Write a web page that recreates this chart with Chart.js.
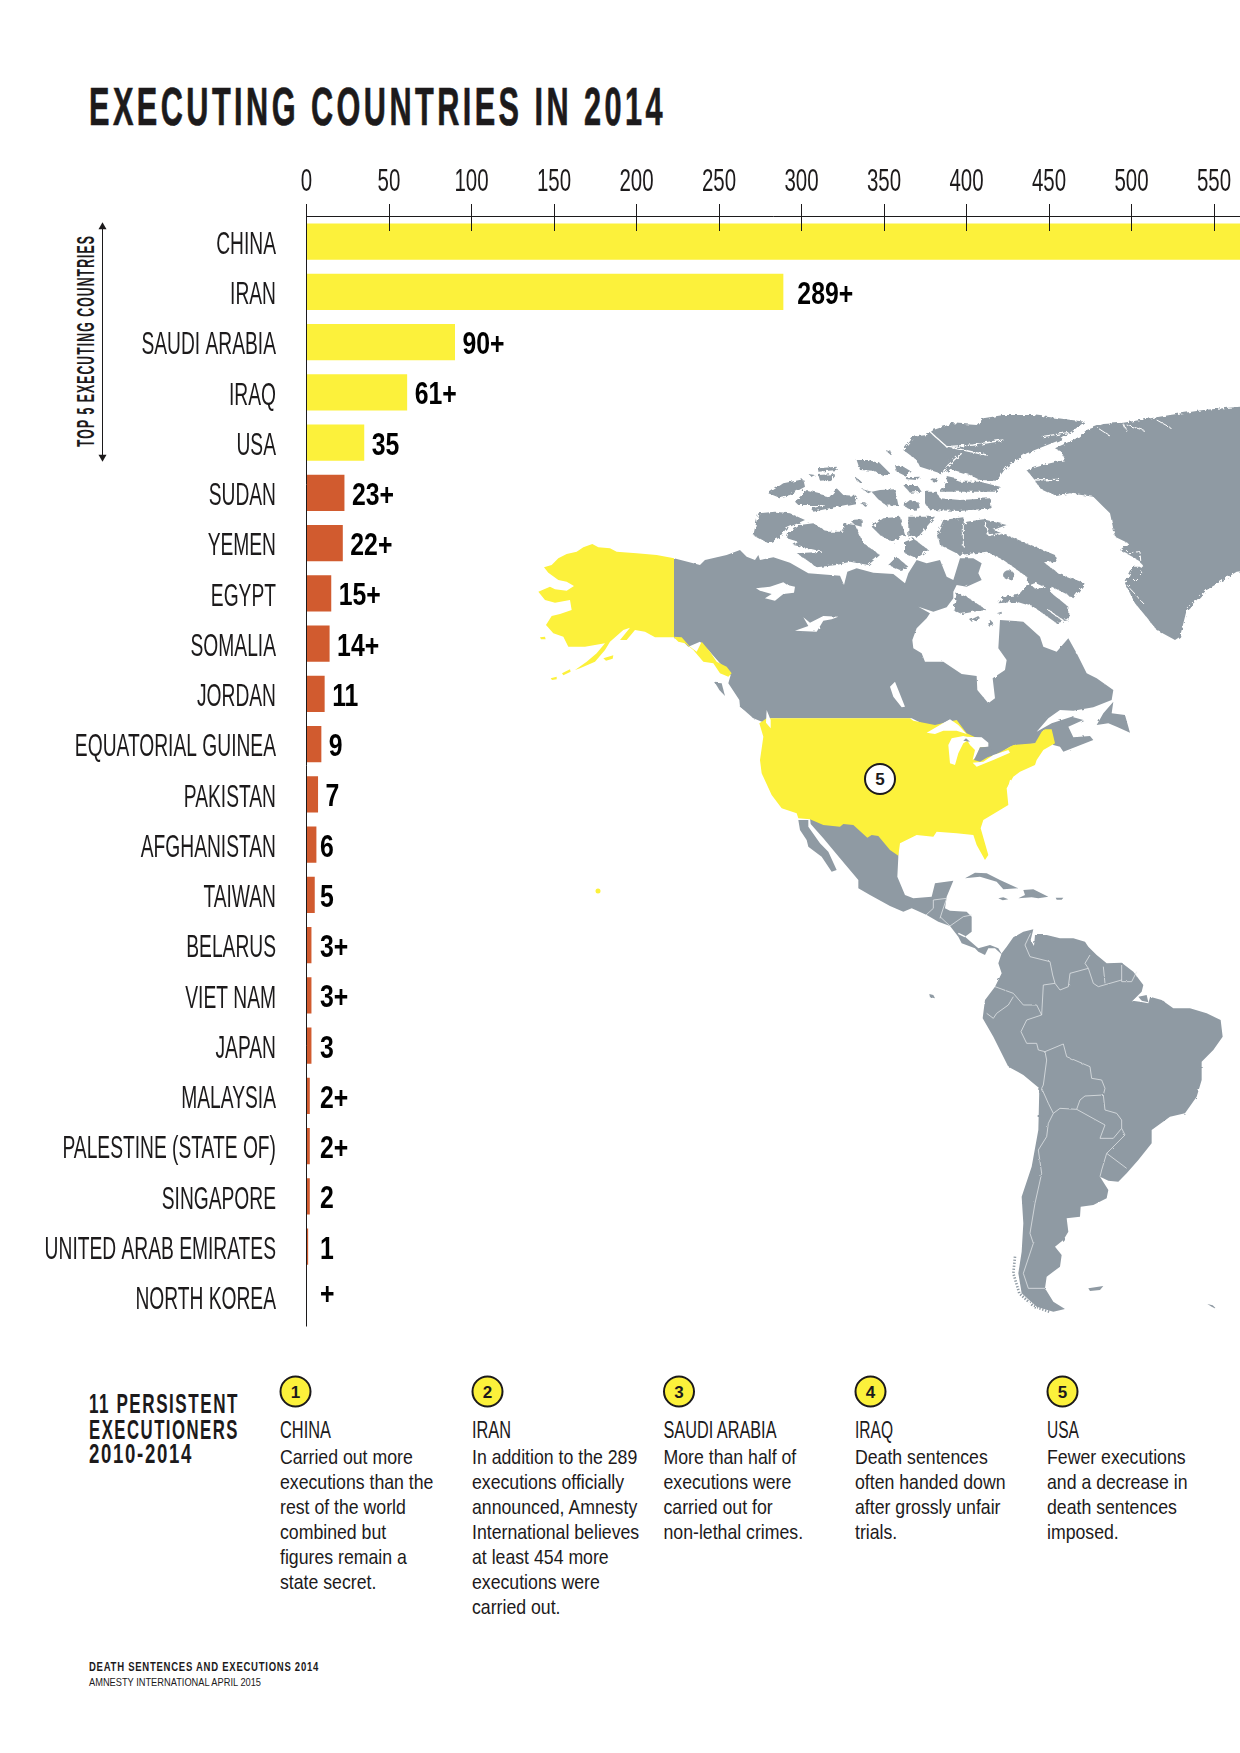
<!DOCTYPE html>
<html><head><meta charset="utf-8">
<script src="https://cdn.jsdelivr.net/npm/chart.js@4"></script>
<style>
html,body{margin:0;padding:0;background:#fff;overflow:hidden}
#wrap{position:relative;width:1240px;height:1753px}
#art,#c{position:absolute;left:0;top:0}
.land{fill:#8f9aa3}
.usa{fill:#fcf13b}
.cut{fill:#fff}
.fj{fill:none;stroke:#fff;stroke-width:4;stroke-linejoin:round}
.bd{fill:none;stroke:#dfe3e6;stroke-width:2.4;stroke-linejoin:round}
.dots{fill:none;stroke:#8f9aa3;stroke-width:8;stroke-dasharray:4 5}
text{font-family:'Liberation Sans',sans-serif;fill:#1c1a1b}
</style></head><body>
<div id="wrap">
<svg id="art" width="1240" height="1753" viewBox="0 0 1240 1753" xmlns="http://www.w3.org/2000/svg">
<defs>
<filter id="rough" x="-5%" y="-5%" width="110%" height="110%"><feTurbulence type="fractalNoise" baseFrequency="0.28" numOctaves="2" seed="4" result="n"/><feDisplacementMap in="SourceGraphic" in2="n" scale="5"/></filter>
<filter id="soft" x="-5%" y="-5%" width="110%" height="110%"><feTurbulence type="fractalNoise" baseFrequency="0.16" numOctaves="2" seed="9" result="n"/><feDisplacementMap in="SourceGraphic" in2="n" scale="2"/></filter>
</defs>
<!-- South America -->
<g filter="url(#soft)">
<g transform="translate(760,840) scale(.33333)">
<polygon class="land" points="725,340 740,320 760,292 790,275 820,268 812,300 822,318 825,285 860,285 900,295 940,295 975,305 985,320 1010,345 1040,370 1085,368 1120,395 1150,435 1145,455 1115,485 1145,470 1170,470 1205,480 1240,505 1290,505 1340,520 1382,540 1388,590 1360,630 1325,665 1325,720 1310,770 1275,820 1230,830 1175,870 1175,910 1135,960 1100,1000 1075,1025 1045,1022 1020,1010 1045,1050 1040,1075 1000,1095 962,1100 960,1130 920,1135 925,1175 910,1200 885,1220 905,1245 900,1280 860,1310 855,1345 880,1385 915,1407 880,1415 830,1400 785,1360 775,1300 785,1235 790,1150 785,1070 815,980 835,870 838,745 790,705 745,680 700,590 668,535 675,480 705,440 725,400 715,370"/>
<polyline class="dots" points="765,1250 760,1300 778,1360 820,1398 870,1416"/>
<polygon class="land" points="985,1345 1030,1338 1020,1350 990,1353"/>
<polygon class="land" points="1342,1392 1358,1396 1370,1408 1355,1400"/>
<polygon class="land" points="508,462 520,465 525,475 510,472"/>
<polygon class="cut" points="1118,482 1150,458 1172,465 1165,490 1140,485"/>
<polygon class="land" points="1135,470 1160,465 1165,487 1145,482"/>
<polyline class="bd" points="812,280 795,315 810,350 870,365 878,405 885,430 850,435 845,525"/>
<polyline class="bd" points="885,430 900,450 925,440 930,400 985,385 975,370 990,345"/>
<polyline class="bd" points="985,385 1000,430 1015,440 1085,420"/>
<polyline class="bd" points="1030,380 1035,430"/>
<polyline class="bd" points="1085,375 1085,425 1115,425 1130,395"/>
<polyline class="bd" points="845,525 830,495 790,495 760,460 705,440"/>
<polyline class="bd" points="760,470 745,495 710,520 700,535 680,520"/>
<polyline class="bd" points="845,525 800,540 783,575 800,610 830,610 835,630 855,635"/>
<polyline class="bd" points="855,635 910,612 920,650 990,680 995,715 1025,720 1035,745 1030,765"/>
<polyline class="bd" points="855,635 860,660 850,735 845,745"/>
<polyline class="bd" points="845,745 865,790 880,820"/>
<polyline class="bd" points="880,820 900,805 950,808"/>
<polyline class="bd" points="950,808 960,780 975,768 1030,765"/>
<polyline class="bd" points="1030,765 1035,810 1070,820 1085,840 1085,865 1060,895 1020,895"/>
<polyline class="bd" points="950,808 1035,855 1020,895"/>
<polyline class="bd" points="1085,865 1095,885 1040,940"/>
<polyline class="bd" points="1040,940 1100,985"/>
<polyline class="bd" points="1040,940 1025,990 1020,1010"/>
<polyline class="bd" points="880,820 865,850 860,890 835,930 845,1000 825,1090 810,1180 820,1210 790,1300 805,1345 855,1345"/>
</g>
</g>
<!-- Mexico and Central America -->
<g transform="translate(790,820) scale(.33333)">
<polygon class="land" points="60,-6 320,-6 325,110 322,170 345,225 370,235 425,230 435,190 490,182 470,230 465,265 480,272 530,275 545,290 545,335 525,350 565,385 600,375 625,385 637,405 615,385 595,385 585,405 565,395 555,385 515,370 505,350 480,318 445,305 410,285 365,265 340,275 300,258 240,225 205,205 205,180 150,115 100,55 62,12"/>
<polygon class="land" points="25,0 55,0 55,20 90,70 115,95 140,150 125,155 95,110 55,80 50,60 30,30"/>
<polygon class="land" points="525,175 555,158 590,160 630,180 685,205 640,208 620,185 570,170"/>
<polygon class="land" points="685,235 705,225 700,210 730,208 775,230 745,235 725,232"/>
<polygon class="land" points="625,235 640,232 655,238 638,241"/>
<polygon class="land" points="797,233 820,233 815,239 800,239"/>
<polyline class="bd" points="470,235 430,240 430,265 408,285"/>
<polyline class="bd" points="470,235 458,270 450,295"/>
<polyline class="bd" points="450,290 480,318 520,290 545,285"/>
<polyline class="fj" points="505,340 525,350" />
</g>
<!-- Canada -->
<g filter="url(#soft)">
<g transform="translate(660,550) scale(.33333)">
<polygon class="land" points="42,25 120,45 135,30 200,15 240,0 260,20 285,30 295,15 300,30 340,22 390,38 445,70 540,77 552,105 562,65 590,55 640,68 700,72 735,100 745,70 770,30 800,40 840,30 860,80 880,90 900,25 940,25 965,40 955,70 965,90 920,110 890,105 880,125 880,145 860,172 820,185 775,170 810,190 800,205 770,235 757,270 760,295 785,310 795,335 850,335 905,372 950,378 952,420 985,460 1005,445 998,385 1035,360 1040,330 1015,295 1020,210 1090,215 1140,260 1150,290 1190,305 1225,265 1250,310 1280,370 1310,385 1360,420 1355,450 1300,472 1240,482 1200,480 1165,505 1130,545 1175,520 1235,500 1270,510 1225,530 1240,562 1290,558 1300,570 1210,605 1200,590 1180,585 1150,540 1130,580 1050,590 1020,610 950,640 940,630 980,590 930,560 920,555 870,510 815,535 755,505 330,505 320,520 290,505 240,470 238,450 205,400 212,375 180,340 145,300 120,275 85,290 60,265 42,265"/>
<polygon class="land" points="1310,525 1330,490 1360,455 1355,490 1395,495 1410,548 1370,530 1345,520"/>
<polygon class="land" points="165,398 185,400 195,438 178,420"/>
<polygon class="land" points="238,468 270,475 315,510 318,520 280,505"/>
<polygon class="cut" points="690,410 705,395 715,420 735,470 725,472 700,440"/>
<polygon class="cut" points="288,115 330,110 370,97 382,105 405,110 402,128 370,132 345,152 315,145 335,132 300,122"/>
<polygon class="cut" points="430,202 450,218 490,198 535,200 515,208 490,212 470,245 405,242 445,228"/>
</g>
</g>
<!-- Arctic islands and Greenland -->
<g filter="url(#rough)">
<g transform="translate(740,410) scale(.33333)">
<polygon class="land" points="1040,60 1090,42 1150,38 1200,30 1290,15 1390,0 1500,-10 1540,-10 1540,480 1490,485 1400,540 1370,570 1340,600 1320,680 1305,690 1250,660 1210,610 1185,580 1155,520 1180,470 1210,470 1195,450 1140,420 1165,400 1125,380 1110,310 1060,260 990,250 950,258 900,235 880,205 860,180 930,160 975,150 965,125 945,115 1010,85"/>
<polygon class="land" points="490,120 520,80 560,75 580,60 640,40 710,45 730,25 790,15 880,15 1035,35 960,90 860,130 800,170 770,212 720,210 690,195 640,180 600,190 540,170 530,150"/>
<polygon class="land" points="600,240 630,205 660,215 720,215 780,230 770,245 600,245"/>
<polygon class="land" points="555,245 590,245 600,265 660,270 750,265 755,295 660,303 570,300 555,280"/>
<polygon class="land" points="490,225 530,225 545,245 510,248"/>
<polygon class="land" points="465,165 490,170 515,185 495,197 470,185"/>
<polygon class="land" points="495,202 540,200 530,210 500,208"/>
<polygon class="land" points="575,205 595,207 590,217 575,213"/>
<polygon class="land" points="620,198 650,205 640,215 620,210"/>
<polygon class="land" points="350,150 385,150 420,160 450,190 430,198 400,182 360,180"/>
<polygon class="land" points="435,120 455,125 450,133"/>
<polygon class="land" points="345,200 365,215 355,218"/>
<polygon class="land" points="235,175 290,170 290,180 235,185"/>
<polygon class="land" points="235,195 285,192 270,210 240,212"/>
<polygon class="land" points="205,192 225,195 215,200"/>
<polygon class="land" points="85,250 130,220 190,208 195,230 150,255 115,262"/>
<polygon class="land" points="165,275 200,240 240,250 265,265 290,235 310,255 350,258 345,280 290,290 220,305 215,295 260,285 175,285"/>
<polygon class="land" points="395,245 420,240 465,238 475,285 440,287 415,268"/>
<polygon class="land" points="365,237 395,245 385,250"/>
<polygon class="land" points="490,285 510,270 535,275 540,298 510,300"/>
<polygon class="land" points="360,280 380,280 375,288"/>
<polygon class="land" points="55,310 105,305 150,310 195,330 140,355 115,385 85,400 40,375"/>
<polygon class="land" points="145,370 180,345 220,340 260,365 310,365 310,340 345,345 370,400 420,435 385,465 330,455 290,465 230,472 200,450 170,430 250,425 160,405 175,395 140,385"/>
<polygon class="land" points="330,330 365,328 365,350 345,345"/>
<polygon class="land" points="395,350 430,325 480,320 495,375 455,395 420,375"/>
<polygon class="land" points="505,320 585,320 535,380 505,380"/>
<polygon class="land" points="592,370 610,330 670,322 672,345 680,335 730,328 800,345 760,360 850,395 945,435 950,455 915,460 955,490 1035,520 1000,565 985,555 935,530 930,545 985,590 985,630 950,640 880,590 830,575 775,580 790,560 835,555 865,520 860,500 790,450 740,425 660,435 600,405"/>
<polygon class="land" points="495,395 520,385 565,420 530,445 495,430"/>
<polygon class="land" points="445,465 470,440 505,470 480,480"/>
<polygon class="land" points="640,600 650,550 680,560 740,600 700,605 665,612"/>
<polygon class="land" points="690,630 715,618 720,625 695,635"/>
<polygon class="land" points="745,640 755,632 758,648 748,650"/>
<polygon class="land" points="770,610 785,605 785,612"/>
<ellipse class="land" cx="806" cy="495" rx="17" ry="14"/>
<polygon class="cut" points="870,525 888,518 915,530 890,538"/>
<polyline class="fj" points="570,65 620,110 700,105 790,90"/>
<polyline class="fj" points="620,110 670,120 740,135"/>
<polyline class="fj" points="665,130 625,165 610,185"/>
<polyline class="fj" points="905,80 985,68"/>
<polyline class="fj" style="stroke-width:3" points="670,345 670,410"/>
<polyline class="fj" points="735,335 745,375 790,370"/>
<polyline class="fj" points="880,210 960,208"/>
<polyline class="fj" style="stroke-width:3" points="1075,55 1110,78"/>
<polyline class="fj" style="stroke-width:3" points="1150,40 1160,65"/>
<polyline class="fj" style="stroke-width:3" points="1160,45 1215,62"/>
<polyline class="fj" style="stroke-width:3" stroke-dasharray="16 8" points="1140,430 1200,425 1205,490 1165,530 1210,580"/>
<polyline class="fj" style="stroke-width:3" points="1250,30 1295,55"/>
<polyline class="fj" points="925,600 980,640"/>
</g>
</g>
<!-- USA and Alaska -->
<g transform="translate(530,530) scale(.33333)">
<polygon class="usa" points="432,85 380,75 320,70 260,65 240,55 205,52 187,42 160,52 140,65 110,72 85,85 65,105 42,112 55,128 85,150 110,155 132,168 110,182 75,178 60,170 25,185 45,210 75,218 120,210 125,240 90,252 65,258 48,285 70,310 100,320 115,350 165,350 195,345 225,340 200,370 170,395 135,420 150,415 195,395 225,360 240,335 280,300 300,293 270,330 290,330 315,300 345,305 375,322 432,322"/>
<polygon class="usa" points="430,320 455,322 480,350 500,365 515,335 540,365 560,395 590,410 605,430 595,440 570,430 550,400 520,395 490,360 465,340 445,335"/>
<polygon class="usa" points="30,322 45,320 47,328 33,328"/>
<polygon class="usa" points="62,445 80,440 80,448 66,450"/>
<polygon class="usa" points="96,430 120,418 122,425 100,436"/>
<polygon class="usa" points="220,385 250,376 248,386 228,392"/>
</g>
<g transform="translate(750,710) scale(.33333)">
<polygon class="usa" points="28,40 50,25 480,25 490,32 555,45 620,30 650,70 715,100 680,150 735,135 790,105 855,100 875,65 885,58 905,58 915,100 880,120 860,150 855,165 810,185 790,200 770,235 775,285 700,330 692,355 715,435 705,450 680,405 670,375 620,370 560,365 550,380 500,375 450,400 445,437 420,420 385,378 365,375 352,383 310,345 280,342 270,350 220,345 180,328 145,325 140,310 95,295 65,255 35,190 30,150 40,80"/>
<polygon class="cut" points="530,68 575,42 600,28 625,45 650,72 620,62 580,62 555,72"/>
<polygon class="cut" points="595,105 605,85 640,78 665,85 640,100 625,130 615,165 600,160"/>
<polygon class="cut" points="645,80 695,82 715,98 715,110 690,112 680,140 668,150 675,120 660,105"/>
<polygon class="land" points="648,85 660,95 640,92"/>
<polygon class="land" points="672,150 690,112 720,110 735,128 715,140 690,155"/>
<polygon class="cut" points="668,158 700,155 730,135 775,120 780,128 730,150 680,170"/>
<polyline class="fj" points="782,210 776,232 790,238"/>
<polygon class="cut" points="50,0 62,30 62,55 48,38"/>
</g>
<ellipse class="usa" cx="598" cy="891" rx="2.5" ry="2.5"/>
</svg>
<canvas id="c" width="1240" height="1753"></canvas>
</div>
<script>
const categories = ["CHINA","IRAN","SAUDI ARABIA","IRAQ","USA","SUDAN","YEMEN","EGYPT","SOMALIA","JORDAN","EQUATORIAL GUINEA","PAKISTAN","AFGHANISTAN","TAIWAN","BELARUS","VIET NAM","JAPAN","MALAYSIA","PALESTINE (STATE OF)","SINGAPORE","UNITED ARAB EMIRATES","NORTH KOREA"];
const executions = [566,289,90,61,35,23,22,15,14,11,9,7,6,5,3,3,3,2,2,2,1,0];
const valueLabels = ["","289+","90+","61+","35","23+","22+","15+","14+","11","9","7","6","5","3+","3+","3","2+","2+","2","1","+"];
const tickValues = [0,50,100,150,200,250,300,350,400,450,500,550];
const topCount = 5;
const notes = [
 ["1","CHINA",["Carried out more","executions than the","rest of the world","combined but","figures remain a","state secret."]],
 ["2","IRAN",["In addition to the 289","executions officially","announced, Amnesty","International believes","at least 454 more","executions were","carried out."]],
 ["3","SAUDI ARABIA",["More than half of","executions were","carried out for","non-lethal crimes."]],
 ["4","IRAQ",["Death sentences","often handed down","after grossly unfair","trials."]],
 ["5","USA",["Fewer executions","and a decrease in","death sentences","imposed."]]
];
const YELLOW="#fcf13b", ORANGE="#d15b2f", INK="#1c1a1b";
const SANS="'Liberation Sans',sans-serif";

const NS="http://www.w3.org/2000/svg", art=document.getElementById('art');
function txt(s,x,y,size,weight,width,extra){
  const t=document.createElementNS(NS,'text');
  t.textContent=s;t.setAttribute('x',x);t.setAttribute('y',y);
  t.setAttribute('font-size',size);t.setAttribute('font-weight',weight||'normal');
  if(width){t.setAttribute('textLength',width);t.setAttribute('lengthAdjust','spacingAndGlyphs');}
  if(extra)for(const k in extra)t.setAttribute(k,extra[k]);
  art.appendChild(t);return t;
}
function squeezed(s,x,y,size,sx){
  const t=txt(s,0,0,size,'normal');
  t.setAttribute('transform',`translate(${x},${y}) scale(${sx},1)`);return t;
}
function circle(cx,cy,fill,label){
  const c=document.createElementNS(NS,'circle');
  c.setAttribute('cx',cx);c.setAttribute('cy',cy);c.setAttribute('r',15);
  c.setAttribute('fill',fill);c.setAttribute('stroke',INK);c.setAttribute('stroke-width',2);
  art.appendChild(c);
  txt(label,cx,cy+6,17,'bold',null,{'text-anchor':'middle'});
}
const heavy={'letter-spacing':'6','stroke':INK,'stroke-width':'0.7'};
txt("EXECUTING COUNTRIES IN 2014",89,125,53.5,'bold',577,heavy);
const rot=txt("TOP 5 EXECUTING COUNTRIES",0,0,23,'bold',212,{'letter-spacing':'2'});
rot.setAttribute('transform','translate(94,447) rotate(-90)');
const subHead={'letter-spacing':'2.5'};
txt("11 PERSISTENT",89,1413,28,'bold',150,subHead);
txt("EXECUTIONERS",89,1438.5,28,'bold',150,subHead);
txt("2010-2014",89,1463,28,'bold',104,subHead);
const colX=[280,472,663.5,855,1047], headW=[51,39,113,38,32];
notes.forEach((n,i)=>{
  circle(colX[i]+15.5,1391.5,YELLOW,n[0]);
  txt(n[1],colX[i],1437.5,24,'normal',headW[i]);
  n[2].forEach((line,j)=>squeezed(line,colX[i],1463.5+25*j,20,0.885));
});
circle(880,779,"#fff","5");
txt("DEATH SENTENCES AND EXECUTIONS 2014",89,1670.5,13,'bold',230,{'letter-spacing':'1'});
txt("AMNESTY INTERNATIONAL APRIL 2015",89,1686,11,'normal',172);

function squeezeText(ctx,s,x,y,sx){ctx.save();ctx.translate(x,y);ctx.scale(sx,1);ctx.fillText(s,0,0);ctx.restore();}

const drawAxes={
  id:'drawAxes',
  afterDatasetsDraw(chart){
    const {ctx,scales:{x,y},chartArea:a}=chart;
    const x0=x.getPixelForValue(0);
    ctx.save();
    ctx.strokeStyle=INK;ctx.lineWidth=1;
    ctx.beginPath();
    ctx.moveTo(x0,216.5);ctx.lineTo(1240,216.5);
    ctx.moveTo(x0,204);ctx.lineTo(x0,a.bottom+4.5);
    x.ticks.forEach(t=>{const p=Math.round(x.getPixelForValue(t.value))+.5;
      if(t.value!==0){ctx.moveTo(p,204);ctx.lineTo(p,231);}});
    ctx.stroke();
    // arrow beside the top-five group
    const ax=102.5, t0=y.getPixelForValue(0)-18.5, t1=y.getPixelForValue(topCount-1)+18;
    ctx.beginPath();ctx.moveTo(ax,t0+3);ctx.lineTo(ax,t1-3);ctx.stroke();
    ctx.fillStyle=INK;
    ctx.beginPath();ctx.moveTo(ax,t0-1);ctx.lineTo(ax-4,t0+6);ctx.lineTo(ax+4,t0+6);ctx.closePath();ctx.fill();
    ctx.beginPath();ctx.moveTo(ax,t1+1);ctx.lineTo(ax-4,t1-6);ctx.lineTo(ax+4,t1-6);ctx.closePath();ctx.fill();
    // tick labels
    ctx.fillStyle=INK;ctx.textBaseline='alphabetic';
    ctx.font="31px "+SANS;ctx.textAlign='center';
    x.ticks.forEach(t=>squeezeText(ctx,String(t.value),x.getPixelForValue(t.value),190.5,0.66));
    ctx.textAlign='right';
    categories.forEach((c,i)=>squeezeText(ctx,c,276,y.getPixelForValue(i)+12.3,0.62));
    ctx.textAlign='left';ctx.font="bold 31px "+SANS;ctx.fillStyle='#000';
    executions.forEach((v,i)=>{
      if(!valueLabels[i])return;
      const end=x.getPixelForValue(v), gap=v>200?14:7.5;
      const px=v<=6?320:end+gap;
      squeezeText(ctx,valueLabels[i],px,y.getPixelForValue(i)+(valueLabels[i]==='+'?7:12),0.8);
    });
    ctx.restore();
  }
};

new Chart(document.getElementById('c'),{
  type:'bar',
  data:{labels:categories,datasets:[{data:executions,
    backgroundColor:c=>c.dataIndex<topCount?YELLOW:ORANGE,
    categoryPercentage:1,barPercentage:0.72,borderWidth:0}]},
  options:{
    indexAxis:'y',responsive:false,animation:false,
    layout:{padding:{left:306.5,top:216.5,right:0,bottom:431}},
    plugins:{legend:{display:false},tooltip:{enabled:false}},
    scales:{
      x:{display:false,position:'top',min:0,max:565.76,
        afterBuildTicks:ax=>{ax.ticks=tickValues.map(v=>({value:v}));}},
      y:{display:false}
    }
  },
  plugins:[drawAxes]
});
</script>
</body></html>
